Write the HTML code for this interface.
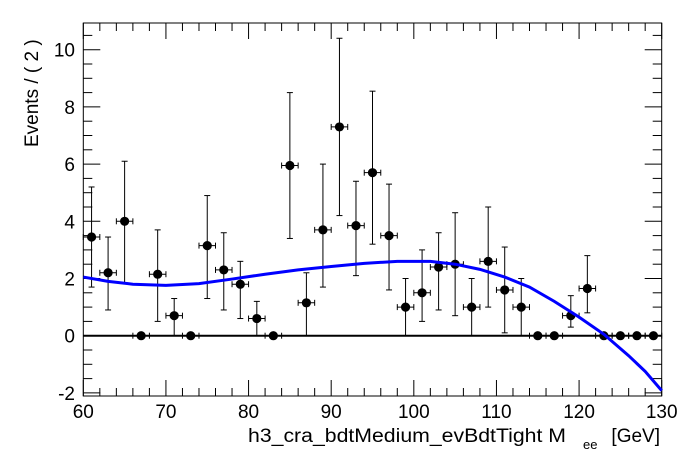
<!DOCTYPE html>
<html><head><meta charset="utf-8"><style>
html,body{margin:0;padding:0;background:#fff;}
svg{display:block;font-family:"Liberation Sans",Arial,sans-serif;}
</style></head><body>
<svg id="s" width="696" height="472" xmlns="http://www.w3.org/2000/svg"></svg>
<script>
const s=document.getElementById('s');
const X=v=>83.3+(v-60)*8.263, Y=v=>335.7-28.6*v;
let h='';
const L=(x1,y1,x2,y2,w=1,c='#000')=>h+=`<line x1="${x1}" y1="${y1}" x2="${x2}" y2="${y2}" stroke="${c}" stroke-width="${w}"/>`;
h+=`<rect x="83.3" y="23" width="578.4" height="373" fill="none" stroke="#000" stroke-width="1"/>`;
for(let v=60;v<=130;v+=2){const x=X(v),len=(v%10==0)?16:8;L(x,396,x,396-len);L(x,23,x,23+len);}
for(let v=-2;v<=10.5;v+=0.5){const y=Y(v),len=(Math.abs(v%2)<1e-6)?17:9;L(83.3,y,83.3+len,y);L(661.7,y,661.7-len,y);}
for(let v=60;v<=130;v+=10)h+=`<text x="${X(v)}" y="418" font-size="19" text-anchor="middle">${v}</text>`;
for(let v=-2;v<=10;v+=2)h+=`<text x="75" y="${Y(v)+7}" font-size="19" text-anchor="end">${v}</text>`;
h+=`<text x="248" y="442" font-size="19" textLength="318" lengthAdjust="spacingAndGlyphs">h3_cra_bdtMedium_evBdtTight  M</text>`;
h+=`<text x="583" y="449" font-size="13">ee</text>`;
h+=`<text x="660" y="442" font-size="19" text-anchor="end">[GeV]</text>`;
h+=`<text transform="translate(38,147) rotate(-90)" font-size="19">Events / ( 2 )</text>`;
L(83.3,Y(0),661.7,Y(0),2);
const d=[[3.45,1.7,5.2],[2.2,0.9,3.45],[4,1.85,6.1],[0,0,0],[2.15,0.5,3.7],[0.7,0,1.3],[0,0,0],[3.15,1.3,4.9],[2.3,0.9,3.6],[1.8,0.6,2.6],[0.6,0,1.2],[0,0,0],[5.95,3.4,8.5],[1.15,0,2.2],[3.7,1.7,6.0],[7.3,4.2,10.4],[3.85,2.1,5.4],[5.7,3.2,8.55],[3.5,1.6,5.3],[1.0,0,2.0],[1.5,0.5,3.0],[2.4,0.9,3.6],[2.5,0.7,4.3],[1.0,0,2.0],[2.6,1.0,4.5],[1.6,0.1,3.1],[1.0,0,2.0],[0,0,0],[0,0,0],[0.7,0.3,1.4],[1.65,0.8,2.8],[0,0,0],[0,0,0],[0,0,0],[0,0,0]];
d.forEach((p,i)=>{const c=61+2*i,x=X(c),y=Y(p[0]);
 L(X(c-1),y,X(c+1),y);L(X(c-1),y-3,X(c-1),y+3);L(X(c+1),y-3,X(c+1),y+3);
 if(p[2]>p[1]){L(x,Y(p[1]),x,Y(p[2]));L(x-3,Y(p[1]),x+3,Y(p[1]));L(x-3,Y(p[2]),x+3,Y(p[2]));}
 h+=`<circle cx="${x}" cy="${y}" r="4.6" fill="#000"/>`;});
const cp=[[60,2.05],[63,1.9],[66,1.8],[70,1.76],[74,1.82],[78,1.98],[82,2.15],[86,2.3],[90,2.42],[94,2.53],[98,2.6],[102,2.6],[105,2.5],[108,2.32],[111,2.05],[114,1.7],[117,1.2],[120,0.65],[123,0.05],[126,-0.7],[128,-1.25],[130,-1.92]];
h+=`<polyline fill="none" stroke="#0000ff" stroke-width="3" points="${cp.map(p=>X(p[0])+','+Y(p[1])).join(' ')}"/>`;
s.innerHTML=h;
</script>
</body></html>
